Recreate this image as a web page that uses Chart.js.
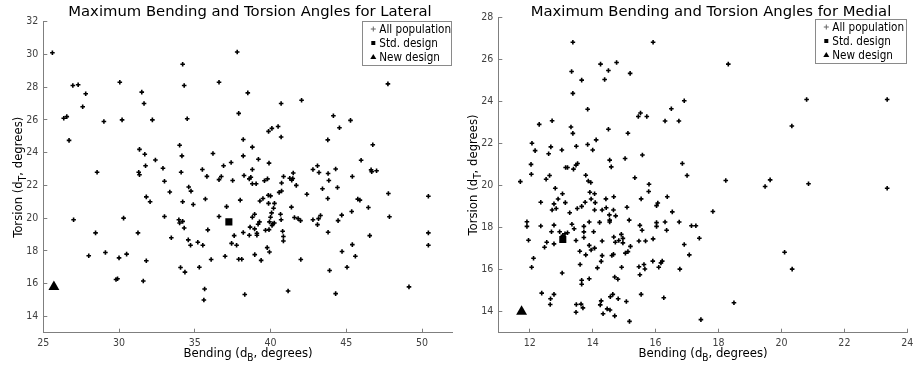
<!DOCTYPE html>
<html>
<head>
<meta charset="utf-8">
<script src="https://cdn.jsdelivr.net/npm/chart.js@4.4.1/dist/chart.umd.min.js"></script>
<style>
  html, body { margin: 0; padding: 0; background: #fff; }
  #wrap { position: relative; width: 913px; height: 369px; overflow: hidden; }
  .panel { position: absolute; top: 0; height: 369px; }
  /* panels overlap a little: Chart.js keeps ~6px on the right for the last tick label */
  #left { left: 0; width: 459px; }
  #right { left: 456px; width: 458px; }
</style>
</head>
<body>
<div id="wrap">
  <div class="panel" id="left"><canvas id="lateral"></canvas></div>
  <div class="panel" id="right"><canvas id="medial"></canvas></div>
</div>
<script>
// --- data ---
const lateralBending = [
  25.6, 26.95, 27.3, 27.8, 27.6, 30.05, 31.5, 31.65, 34.2, 34.3, 36.6, 37.8, 38.5, 37.9, 40.7, 42.05, 47.75, 44.15,
  26.35, 26.55, 26.7, 27.0, 28.55, 29.0, 30.2, 30.3, 28.45, 31.25, 32.2, 31.35, 31.7, 32.4, 31.3, 31.35, 31.75, 31.8,
  32.05, 32.9, 33.0, 33.35, 33.0, 33.45, 34.0, 34.15, 34.1, 34.5, 34.6, 34.75, 34.2, 34.9, 33.95, 34.2, 34.0, 34.3,
  35.5, 35.7, 35.8, 35.86, 36.2, 36.6, 36.75, 36.9, 37.1, 36.6, 37.5, 37.4, 38.0, 37.6, 38.2, 38.2, 38.2, 38.25,
  38.6, 38.7, 38.8, 39.05, 38.8, 38.8, 39.2, 39.6, 39.8, 39.9, 39.87, 40.09, 40.5, 40.7, 39.85, 40.0, 39.5, 39.3,
  39.87, 40.26, 40.2, 40.07, 40.66, 40.0, 40.7, 39.93, 40.15, 40.25, 40.1, 39.9, 38.95, 38.8, 39.27, 39.18, 38.65,
  38.95, 39.67, 39.1, 39.1, 38.6, 40.57, 40.73, 40.73, 40.86, 41.27, 41.47, 41.4, 41.5, 41.7, 42.8, 43.1, 42.4,
  41.38, 41.58, 41.82, 41.98, 42.8, 43.1, 40.8, 40.85, 40.85, 45.28, 44.55, 43.78, 46.75, 45.98, 43.2, 43.8, 44.3,
  43.85, 43.43, 44.42, 45.4, 46.64, 46.68, 47.0, 43.78, 45.76, 45.9, 47.78, 50.42, 46.46, 45.36, 44.7, 44.46, 43.3,
  43.17, 47.85, 43.8, 46.55, 50.42, 50.42, 45.4, 44.72, 45.6, 45.05, 43.9, 44.3, 49.14, 28.0, 29.1, 30.0, 30.5,
  29.8, 29.9, 31.6, 31.8, 34.06, 34.35, 34.57, 34.72, 35.2, 35.53, 35.3, 35.65, 35.6, 36.08, 37.0, 37.43, 37.76,
  37.9, 38.1, 38.96, 39.38, 39.78, 39.93, 42.0, 41.16, 38.3
];
const lateralTorsion = [
  30.1, 28.1, 28.15, 27.6, 26.8, 28.3, 27.7, 27.0, 29.4, 28.1, 28.3, 30.15, 27.65, 26.4, 27.0, 27.2, 28.2, 26.25,
  26.1, 26.2, 24.75, 19.9, 22.8, 25.9, 26.0, 20.0, 19.1, 19.1, 26.0, 24.2, 23.9, 23.55, 22.8, 22.65, 23.2, 21.3,
  21.0, 23.05, 22.25, 21.6, 20.1, 18.8, 24.45, 23.8, 22.8, 26.07, 21.9, 21.65, 21.0, 20.83, 19.9, 19.8, 19.7, 19.4,
  22.97, 21.17, 22.55, 19.28, 23.95, 22.35, 22.54, 23.2, 20.7, 20.1, 22.3, 23.4, 21.1, 18.93, 19.12, 24.8, 23.8, 22.6,
  22.4, 22.5, 22.1, 22.1, 22.97, 24.34, 23.6, 22.28, 22.4, 23.36, 25.3, 25.48, 25.6, 24.96, 21.4, 21.36, 21.2, 21.05,
  20.9, 20.9, 20.6, 20.32, 20.24, 20.05, 19.9, 19.77, 19.65, 19.7, 19.55, 19.3, 20.24, 20.05, 19.77, 19.63, 19.45,
  19.34, 19.26, 18.95, 19.08, 18.95, 21.57, 21.66, 22.15, 22.54, 22.44, 22.42, 22.32, 22.76, 22.0, 22.97, 23.2, 21.46,
  20.67, 20.04, 19.97, 19.85, 19.9, 19.6, 19.2, 18.88, 18.6, 25.97, 25.52, 24.78, 24.48, 23.54, 22.79, 22.73, 23.0,
  22.3, 21.79, 21.87, 22.54, 22.95, 22.83, 22.89, 21.2, 21.16, 21.1, 21.5, 21.34, 20.65, 20.4, 20.18, 19.85, 20.16,
  19.97, 20.08, 19.14, 18.93, 19.1, 18.34, 18.38, 17.96, 17.67, 17.0, 16.8, 15.39, 15.8, 17.7, 17.9, 17.57, 17.8,
  16.25, 16.3, 16.16, 17.4, 16.98, 16.7, 18.67, 18.34, 18.53, 18.34, 17.0, 15.67, 15.0, 17.47, 17.67, 18.46, 18.34,
  17.49, 17.49, 17.77, 17.42, 18.2, 17.93, 17.47, 15.55, 15.33
];
const lateralStdDesign = { x: 37.25, y: 19.77 };
const lateralNewDesign = { x: 25.7, y: 15.8 };
const lateralXTicks = [25, 30, 35, 40, 45, 50];
const lateralYTicks = [14, 16, 18, 20, 22, 24, 26, 28, 30, 32];

const medialBending = [
  13.37, 13.33, 13.65, 13.37, 13.84, 12.3, 12.71, 13.31, 13.37, 12.07, 12.17, 12.67, 12.6, 13.02, 13.48, 13.84,
  12.04, 12.05, 11.7, 12.52, 12.63, 13.14, 13.2, 13.39, 13.47, 13.52, 13.78, 13.86, 12.81, 12.35, 13.04, 12.9,
  12.77, 12.84, 12.71, 13.13, 13.27, 13.51, 13.65, 13.76, 11.91, 11.91, 12.35, 12.77, 11.96, 12.12, 12.06, 12.69,
  12.95, 13.05, 13.12, 13.2, 13.34, 13.41, 13.72, 13.72, 13.72, 12.54, 12.47, 12.77, 13.47, 13.89, 13.89, 13.59,
  13.78, 13.03, 13.6, 13.65, 13.65, 13.89, 12.38, 12.66, 12.65, 12.77, 13.48, 13.63, 13.69, 13.47,
  15.92, 14.25, 14.5, 14.76, 14.38, 15.19, 16.91, 16.5, 15.52, 15.45, 15.72, 16.3, 16.74, 14.5, 15.12, 14.11, 14.0,
  14.54, 14.59, 15.03, 15.58, 16.85, 17.0, 15.34, 13.94, 15.79, 15.78, 16.37, 15.54, 14.67, 14.42, 13.91, 14.06,
  14.08, 13.95, 14.06, 14.3, 14.43, 14.66, 14.53, 14.73, 14.54, 14.54, 15.09, 15.16, 14.22, 16.03, 16.07, 16.53,
  16.75, 16.3, 16.35, 16.03, 16.03, 15.5, 15.57, 14.03, 14.3, 14.67, 14.72, 14.83, 14.91, 14.96, 14.96, 15.2, 15.47,
  15.68, 15.92, 14.06, 13.95, 14.3, 14.27, 14.61, 14.66, 14.15, 15.04, 15.12, 14.92, 15.47, 15.5, 15.63, 15.66,
  15.91, 16.1, 16.17, 16.21, 16.77, 16.91, 17.07, 14.7, 14.8, 15.07, 15.54, 16.26, 14.27, 14.24, 14.33, 14.46,
  14.55, 14.56, 14.64, 14.81, 14.7, 15.17,
  18.31, 20.8, 23.36, 20.33, 18.23, 19.48, 19.64, 20.86, 23.36, 17.82, 17.14, 17.28, 17.39, 20.1, 20.34, 18.49, 17.44
];
const medialTorsion = [
  26.8, 25.41, 25.0, 24.37, 23.62, 22.9, 23.07, 22.77, 22.47, 22.0, 21.65, 21.83, 21.5, 21.68, 21.86, 21.94,
  21.0, 20.53, 20.18, 20.29, 20.47, 20.85, 20.85, 20.77, 20.96, 21.04, 20.48, 20.21, 19.86, 19.2, 19.6, 19.35,
  19.12, 18.9, 18.83, 19.18, 18.7, 18.9, 19.0, 19.2, 18.27, 18.05, 18.07, 18.11, 17.39, 16.54, 16.11, 17.8,
  17.8, 17.63, 17.7, 17.75, 18.15, 17.94, 18.05, 17.79, 17.52, 17.3, 17.06, 17.22, 17.38, 18.26, 17.15, 16.87,
  16.7, 15.84, 16.24, 15.49, 15.3, 15.56, 14.88, 14.61, 14.34, 14.82, 14.34, 14.36, 14.18, 13.97,
  26.8, 25.76, 25.46, 25.84, 25.03, 25.32, 24.02, 23.64, 23.44, 23.27, 23.27, 23.06, 23.06, 22.67, 22.48, 22.16, 21.68,
  21.2, 20.88, 21.28, 21.44, 21.04, 20.47, 20.36, 20.14, 20.05, 19.71, 19.46, 19.36, 19.46, 19.36, 19.67, 19.6,
  19.18, 19.35, 18.83, 18.83, 18.94, 18.83, 18.6, 18.55, 18.35, 18.26, 18.96, 18.35, 18.24, 19.04, 19.16, 18.74,
  18.26, 18.26, 17.87, 18.23, 18.05, 18.1, 17.87, 17.8, 17.36, 17.55, 17.3, 17.38, 17.67, 17.48, 17.27, 17.1, 17.36,
  17.36, 17.46, 17.02, 16.93, 16.66, 16.39, 16.67, 16.72, 16.08, 16.78, 16.85, 16.11, 16.13, 15.75, 16.24, 16.03,
  16.4, 16.11, 16.32, 16.4, 16.02, 17.19, 16.7, 15.65, 15.54, 14.48, 14.82, 14.66, 14.51, 14.32, 13.9, 14.13,
  14.08, 14.71, 14.82, 14.61, 13.8, 13.54,
  25.76, 24.08, 24.08, 22.82, 20.23, 19.95, 20.26, 20.08, 19.86, 18.76, 18.08, 18.08, 17.49, 16.82, 16.02, 14.42, 13.62
];
const medialStdDesign = { x: 13.05, y: 17.43 };
const medialNewDesign = { x: 11.74, y: 14.0 };
const medialXTicks = [12, 14, 16, 18, 20, 22, 24];
const medialYTicks = [14, 16, 18, 20, 22, 24, 26, 28];

const legendLabels = ['All population', 'Std. design', 'New design'];

// --- drawing helpers ---
const FONT = "'DejaVu Sans Condensed', 'Liberation Sans', sans-serif";
const TITLE_FONT = "'DejaVu Sans', 'Liberation Sans', sans-serif";

function drawSubText(ctx, parts, cx, baseline) {
  // parts: [before, subscript, after]
  const big = '13px ' + FONT, small = '10px ' + FONT;
  ctx.font = big;
  const w0 = ctx.measureText(parts[0]).width;
  const w2 = ctx.measureText(parts[2]).width;
  ctx.font = small;
  const w1 = ctx.measureText(parts[1]).width;
  let x = cx - (w0 + w1 + w2) / 2;
  ctx.textAlign = 'left';
  ctx.textBaseline = 'alphabetic';
  ctx.font = big;
  ctx.fillText(parts[0], x, baseline);
  x += w0;
  ctx.font = small;
  ctx.fillText(parts[1], x, baseline + 4);
  x += w1;
  ctx.font = big;
  ctx.fillText(parts[2], x, baseline);
}

// title, axis labels with subscripts, and the boxed legend inside the plot
const decorPlugin = {
  id: 'decor',
  afterDraw(chart, args, opts) {
    const ctx = chart.ctx;
    const area = chart.chartArea;
    ctx.save();
    ctx.fillStyle = '#000';

    ctx.font = '14.8px ' + TITLE_FONT;
    ctx.textAlign = 'center';
    ctx.textBaseline = 'alphabetic';
    ctx.fillText(opts.title, opts.titleX, 16);

    drawSubText(ctx, opts.xLabel, opts.xLabelX, 357);
    ctx.save();
    ctx.translate(opts.yLabelX, (area.top + area.bottom) / 2);
    ctx.rotate(-Math.PI / 2);
    drawSubText(ctx, opts.yLabel, 0, 0);
    ctx.restore();

    const bw = opts.legendW, bh = 44;
    const bx = area.right - bw, by = opts.legendTop;
    ctx.fillStyle = '#fff';
    ctx.fillRect(bx, by, bw, bh);
    ctx.strokeStyle = '#8a8a8a';
    ctx.lineWidth = 1;
    ctx.strokeRect(Math.round(bx) + 0.5, Math.round(by) + 0.5, Math.round(bw) - 1, bh);

    ctx.font = '11.6px ' + FONT;
    ctx.textAlign = 'left';
    ctx.textBaseline = 'middle';
    legendLabels.forEach((label, i) => {
      const cy = by + 8 + i * 14;
      const sx = bx + 11;
      ctx.fillStyle = '#000';
      ctx.strokeStyle = '#666';
      if (i === 0) {
        ctx.lineWidth = 1;
        ctx.beginPath();
        ctx.moveTo(sx - 2.5, cy); ctx.lineTo(sx + 2.5, cy);
        ctx.moveTo(sx, cy - 2.5); ctx.lineTo(sx, cy + 2.5);
        ctx.stroke();
      } else if (i === 1) {
        ctx.fillRect(sx - 2, cy - 2, 4, 4);
      } else {
        ctx.beginPath();
        ctx.moveTo(sx, cy - 3); ctx.lineTo(sx + 3, cy + 2); ctx.lineTo(sx - 3, cy + 2);
        ctx.closePath();
        ctx.fill();
      }
      ctx.fillStyle = '#000';
      ctx.fillText(label, bx + 17, cy + 0.5);
    });
    ctx.restore();
  }
};

function makeChart(id, cfg) {
  const population = cfg.bending.map((b, i) => ({ x: b, y: cfg.torsion[i] }));
  return new Chart(document.getElementById(id), {
    type: 'scatter',
    data: {
      datasets: [
        { label: legendLabels[0], data: population, pointStyle: 'cross', pointRadius: 2.3,
          borderWidth: 1.6, borderColor: '#000', backgroundColor: '#000' },
        { label: legendLabels[1], data: [cfg.std], pointStyle: 'rect', pointRadius: 5,
          borderWidth: 0, borderColor: '#000', backgroundColor: '#000' },
        { label: legendLabels[2], data: [cfg.newer], pointStyle: 'triangle', pointRadius: 6.3,
          borderWidth: 0, borderColor: '#000', backgroundColor: '#000' }
      ]
    },
    options: {
      responsive: true,
      maintainAspectRatio: false,
      animation: false,
      events: [],
      layout: { padding: { left: 0, right: cfg.padRight, top: cfg.padTop, bottom: 0 } },
      scales: {
        x: {
          type: 'linear', min: cfg.xMin, max: cfg.xMax,
          afterBuildTicks: s => { s.ticks = cfg.xTicks.map(v => ({ value: v })); },
          afterFit: s => { s.height = 36.3; s.paddingLeft = 0; s.paddingRight = 0; },
          border: { display: true, color: '#7f7f7f', width: 1 },
          grid: { drawOnChartArea: false, drawTicks: true, tickLength: -4, color: '#7f7f7f' },
          ticks: { padding: 8, color: '#404040', font: { family: FONT, size: 10.5 }, maxRotation: 0 }
        },
        y: {
          type: 'linear', min: cfg.yMin, max: cfg.yMax,
          afterBuildTicks: s => { s.ticks = cfg.yTicks.map(v => ({ value: v })); },
          afterFit: s => { s.width = cfg.yWidth; s.paddingTop = 0; s.paddingBottom = 0; },
          border: { display: true, color: '#7f7f7f', width: 1 },
          grid: { drawOnChartArea: false, drawTicks: true, tickLength: -4, color: '#7f7f7f' },
          ticks: { padding: 9, color: '#404040', font: { family: FONT, size: 10.5 } }
        }
      },
      plugins: {
        legend: { display: false },
        tooltip: { enabled: false },
        decor: cfg.decor
      }
    },
    plugins: [decorPlugin]
  });
}

makeChart('lateral', {
  bending: lateralBending, torsion: lateralTorsion,
  std: lateralStdDesign, newer: lateralNewDesign,
  xTicks: lateralXTicks, yTicks: lateralYTicks,
  xMin: 25, xMax: 52, yMin: 13, yMax: 32,
  padRight: 6.7, padTop: 21.7, yWidth: 43.3,
  decor: {
    title: 'Maximum Bending and Torsion Angles for Lateral', titleX: 250,
    xLabel: ['Bending (d', 'B', ', degrees)'], xLabelX: 248,
    yLabel: ['Torsion (d', 'T', ', degrees)'], yLabelX: 22,
    legendW: 90, legendTop: 21
  }
});

makeChart('medial', {
  bending: medialBending, torsion: medialTorsion,
  std: medialStdDesign, newer: medialNewDesign,
  xTicks: medialXTicks, yTicks: medialYTicks,
  xMin: 11, xMax: 24, yMin: 13, yMax: 28,
  padRight: 6.7, padTop: 17, yWidth: 42.3,
  decor: {
    title: 'Maximum Bending and Torsion Angles for Medial', titleX: 255,
    xLabel: ['Bending (d', 'B', ', degrees)'], xLabelX: 247,
    yLabel: ['Torsion (d', 'T', ', degrees)'], yLabelX: 21,
    legendW: 92, legendTop: 19
  }
});
</script>
</body>
</html>
